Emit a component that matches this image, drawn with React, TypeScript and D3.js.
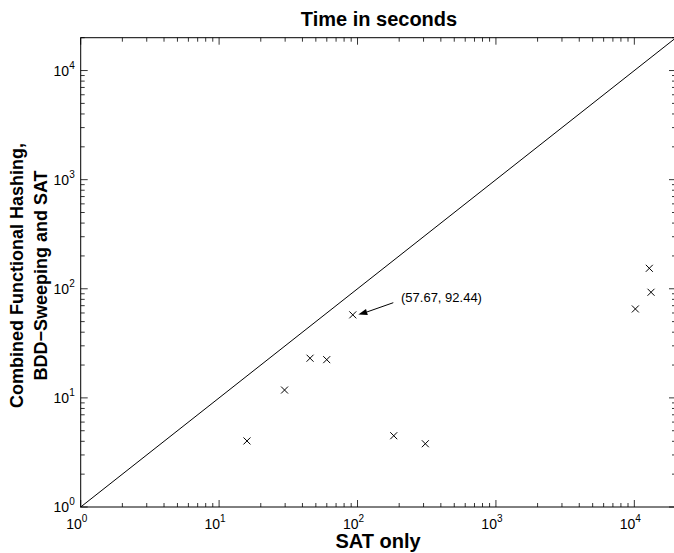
import React from "react";
import * as d3 from "d3";

const satOnly = [15.9, 29.7, 45.4, 59.9, 92.44, 182.7, 309, 12830, 13200, 10170];
const combined = [4.03, 11.8, 23.1, 22.4, 57.67, 4.5, 3.8, 154, 92.9, 65.3];
const decades = [0, 1, 2, 3, 4];
const annotationText = "(57.67, 92.44)";
const titleText = "Time in seconds";
const xLabelText = "SAT only";
const yLabelLines = ["Combined Functional Hashing,", "BDD\u2212Sweeping and SAT"];

const W = 674, H = 553;
const L = 80.7, R = 676, T = 37.7, B = 507;
const FONT = "'Liberation Sans', Arial, Helvetica, sans-serif";

export default function App() {
  const x = d3.scaleLog().domain([1, 2e4]).range([L, R]);
  const y = d3.scaleLog().domain([1, 2e4]).range([B, T]);
  const minor: number[] = [];
  decades.forEach((d) => {
    for (let k = 2; k <= 9; k++) {
      const v = k * Math.pow(10, d);
      if (v <= 2e4) minor.push(v);
    }
  });
  const majors = decades.map((d) => Math.pow(10, d));
  const s = 3.5;
  const ax = x(92.44), ay = y(57.67);
  const tx = 393.3, ty = 302.7;
  const ang = Math.atan2(ay - ty, ax - tx);
  const tip = [ax + 5.5, ay - 0.3];
  const hl = 9, hw = 3.2;
  const bx = tip[0] - hl * Math.cos(ang), by = tip[1] - hl * Math.sin(ang);
  const px = -Math.sin(ang) * hw, py = Math.cos(ang) * hw;
  return (
    <svg width={W} height={H} style={{ position: "absolute", left: 0, top: 0, background: "#fff" }}>
      <rect x={0} y={0} width={W} height={H} fill="#fff" />
      {/* diagonal */}
      <line x1={x(1)} y1={y(1)} x2={x(2e4)} y2={y(2e4)} stroke="#000" strokeWidth={1} />
      {/* frame */}
      <rect x={L} y={T} width={R - L} height={B - T} fill="none" stroke="#000" strokeWidth={1} />
      {/* ticks */}
      {minor.map((v, i) => (
        <g key={"m" + i} stroke="#000" strokeWidth={0.8}>
          <line x1={x(v)} x2={x(v)} y1={B} y2={B - 4} />
          <line x1={x(v)} x2={x(v)} y1={T} y2={T + 4} />
          <line y1={y(v)} y2={y(v)} x1={L} x2={L + 4} />
          <line y1={y(v)} y2={y(v)} x1={R} x2={R - 4} />
        </g>
      ))}
      {majors.map((v, i) => (
        <g key={"M" + i} stroke="#000" strokeWidth={0.8}>
          <line x1={x(v)} x2={x(v)} y1={B} y2={B - 7} />
          <line x1={x(v)} x2={x(v)} y1={T} y2={T + 7} />
          <line y1={y(v)} y2={y(v)} x1={L} x2={L + 7} />
          <line y1={y(v)} y2={y(v)} x1={R} x2={R - 7} />
        </g>
      ))}
      {/* tick labels */}
      {decades.map((d) => (
        <text key={"xl" + d} x={x(Math.pow(10, d)) - 4} y={B + 21.5} fontFamily={FONT} fontSize={14} textAnchor="middle">
          10<tspan dy={-7} fontSize={10}>{d}</tspan>
        </text>
      ))}
      {decades.map((d) => (
        <text key={"yl" + d} x={L - 6} y={y(Math.pow(10, d)) + 5} fontFamily={FONT} fontSize={14} textAnchor="end">
          10<tspan dy={-7} fontSize={10}>{d}</tspan>
        </text>
      ))}
      {/* points */}
      {satOnly.map((v, i) => (
        <g key={"p" + i} stroke="#000" strokeWidth={1}>
          <line x1={x(v) - s} y1={y(combined[i]) - s} x2={x(v) + s} y2={y(combined[i]) + s} />
          <line x1={x(v) - s} y1={y(combined[i]) + s} x2={x(v) + s} y2={y(combined[i]) - s} />
        </g>
      ))}
      {/* annotation */}
      <line x1={tx} y1={ty} x2={bx} y2={by} stroke="#000" strokeWidth={1} />
      <polygon points={`${tip[0]},${tip[1]} ${bx + px},${by + py} ${bx - px},${by - py}`} fill="#000" />
      <text x={401} y={302} fontFamily={FONT} fontSize={13}>{annotationText}</text>
      {/* titles */}
      <text x={379} y={26} fontFamily={FONT} fontSize={20} fontWeight="bold" textAnchor="middle">{titleText}</text>
      <text x={378} y={548} fontFamily={FONT} fontSize={20} fontWeight="bold" textAnchor="middle">{xLabelText}</text>
      <g transform={`translate(0, 275.5) rotate(-90)`}>
        <text x={0} y={23.3} fontFamily={FONT} fontSize={18} fontWeight="bold" textAnchor="middle">{yLabelLines[0]}</text>
        <text x={0} y={46.5} fontFamily={FONT} fontSize={18} fontWeight="bold" textAnchor="middle">{yLabelLines[1]}</text>
      </g>
    </svg>
  );
}
